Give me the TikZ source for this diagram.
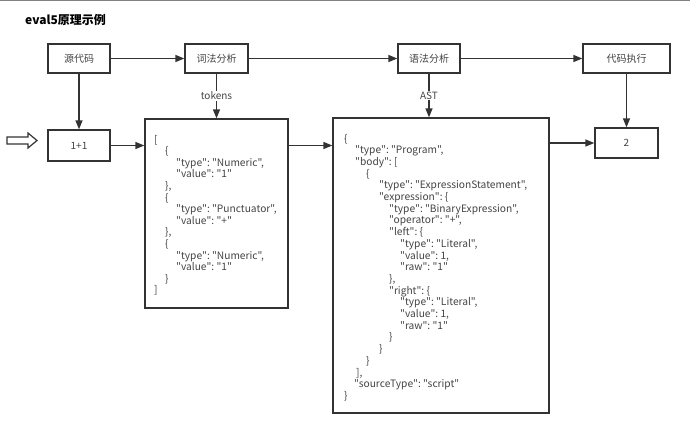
\documentclass[tikz,border=0pt]{standalone}
\usepackage{fontspec}
\setmainfont{Noto Sans CJK SC}
\setmonofont{Noto Sans CJK SC}
\usetikzlibrary{arrows.meta}
\definecolor{ln}{HTML}{333333}
\definecolor{tx}{HTML}{444444}
\begin{document}
\begin{tikzpicture}[x=1pt,y=-1pt,
  box/.style={draw=ln, line width=1.3pt, fill=white, inner sep=0pt, text=tx, font=\fontsize{10}{12}\selectfont},
  conn/.style={draw=ln, line width=1.3pt, -{Triangle[length=9pt,width=7pt]}},
  code/.style={anchor=base west, inner sep=0pt, text=tx, font=\ttfamily\fontsize{10.2}{12}\selectfont},
  lbl/.style={fill=white, inner sep=1pt, text=tx, font=\fontsize{10}{12}\selectfont}
]
\useasboundingbox (0,0) rectangle (690,424);
\fill[white] (0,0) rectangle (690,424);
\draw[gray, line width=1pt] (0,0.5) -- (690,0.5);

\node[anchor=west, inner sep=0pt, font=\bfseries\fontsize{12}{14}\selectfont] (title) at (25,20) {eval5原理示例};

\node[box, minimum width=62pt, minimum height=29pt] (src) at (79,58.5) {源代码};
\node[box, minimum width=63pt, minimum height=29pt] (lex) at (216.5,58.5) {词法分析};
\node[box, minimum width=62pt, minimum height=29pt] (syn) at (429,58.5) {语法分析};
\node[box, minimum width=87pt, minimum height=29pt] (exe) at (626.5,58.5) {代码执行};
\node[box, minimum width=62pt, minimum height=31pt] (one) at (79,145.5) {1+1};
\node[box, minimum width=143pt, minimum height=189pt] (tok) at (216.5,213.5) {};
\node[box, minimum width=216pt, minimum height=295pt] (ast) at (441,265.5) {};
\node[box, minimum width=63pt, minimum height=30pt] (two) at (626.5,143) {2};

\draw[conn] (src.east) -- (lex.west);
\draw[conn] (lex.east) -- (syn.west);
\draw[conn] (syn.east) -- (exe.west);
\draw[conn] (src.south) -- (one.north);
\draw[conn] (lex.south) -- node[lbl] (toklbl) {tokens} (tok.north);
\draw[conn] (syn.south) -- node[lbl] (astlbl) {AST} (syn.south |- ast.north);
\draw[conn] (exe.south) -- (two.north);
\draw[conn] (one.east) -- (one.east -| tok.west);
\draw[conn] (tok.east |- one.east) -- (ast.west |- one.east);
\draw[conn] (ast.east |- two.west) -- (two.west);

\draw[ln, line width=1.2pt, fill=white] (7,137) -- (28,137) -- (28,133) -- (37,140.5) -- (28,148) -- (28,144) -- (7,144) -- cycle;

\foreach \xx/\txt [count=\i] in {
154/{[},
165/{\{},
176/{"type": "Numeric",},
176/{"value": "1"},
165/{\},},
165/{\{},
176/{"type": "Punctuator",},
176/{"value": "+"},
165/{\},},
165/{\{},
176/{"type": "Numeric",},
176/{"value": "1"},
165/{\}},
154/{]}}
  \node[code] (t\i) at (\xx, 143+11.6*\i-11.6) {\txt};

\foreach \xx/\txt [count=\i] in {
344/{\{},
355/{"type": "Program",},
355/{"body": [},
366/{\{},
379/{"type": "ExpressionStatement",},
379/{"expression": \{},
389/{"type": "BinaryExpression",},
389/{"operator": "+",},
389/{"left": \{},
400/{"type": "Literal",},
400/{"value": 1,},
400/{"raw": "1"},
389/{\},},
389/{"right": \{},
400/{"type": "Literal",},
400/{"value": 1,},
400/{"raw": "1"},
389/{\}},
379/{\}},
366/{\}},
356/{],},
354/{"sourceType": "script"},
344/{\}}}
  \node[code] (a\i) at (\xx, 142+11.7*\i-11.7) {\txt};
\end{tikzpicture}
\end{document}
